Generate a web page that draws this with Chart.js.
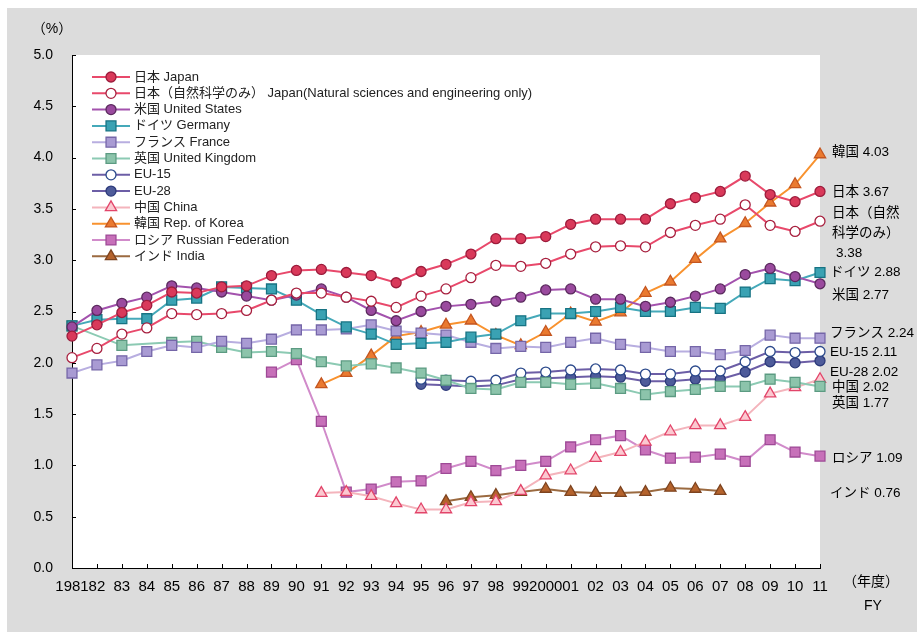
<!DOCTYPE html>
<html><head><meta charset="utf-8">
<script src="https://cdn.jsdelivr.net/npm/chart.js@4"></script>
<style>html,body{margin:0;padding:0;background:#fff;}#wrap{width:917px;height:637px;position:relative;}</style>
</head><body><div id="wrap"><canvas id="c" width="917" height="637"></canvas></div>
<script>
// ---------- DATA ----------
const years = ['1981','82','83','84','85','86','87','88','89','90','91','92','93','94','95','96','97','98','99','2000','01','02','03','04','05','06','07','08','09','10','11'];
const yTicks = [0,0.5,1,1.5,2,2.5,3,3.5,4,4.5,5];

const japan   = [2.26,2.37,2.49,2.56,2.69,2.68,2.74,2.75,2.85,2.90,2.91,2.88,2.85,2.78,2.89,2.96,3.06,3.21,3.21,3.23,3.35,3.40,3.40,3.40,3.55,3.61,3.67,3.82,3.64,3.57,3.67];
const japanNSE= [2.05,2.14,2.28,2.34,2.48,2.47,2.48,2.51,2.61,2.68,2.68,2.64,2.60,2.54,2.65,2.72,2.83,2.95,2.94,2.97,3.06,3.13,3.14,3.13,3.27,3.34,3.40,3.54,3.34,3.28,3.38];
const usa     = [2.35,2.51,2.58,2.64,2.75,2.73,2.69,2.65,2.61,2.66,2.72,2.64,2.51,2.41,2.50,2.55,2.57,2.60,2.64,2.71,2.72,2.62,2.62,2.55,2.59,2.65,2.72,2.86,2.92,2.84,2.77];
const germany = [2.36,2.42,2.43,2.43,2.61,2.63,2.74,2.73,2.72,2.61,2.47,2.35,2.28,2.18,2.19,2.20,2.25,2.28,2.41,2.48,2.48,2.50,2.54,2.50,2.50,2.54,2.53,2.69,2.82,2.80,2.88];
const france  = [1.90,1.98,2.02,2.11,2.17,2.15,2.21,2.19,2.23,2.32,2.32,2.33,2.37,2.31,2.29,2.27,2.20,2.14,2.16,2.15,2.20,2.24,2.18,2.15,2.11,2.11,2.08,2.12,2.27,2.24,2.24];
const uk      = [2.36,null,2.17,null,2.20,2.21,2.15,2.10,2.11,2.09,2.01,1.97,1.99,1.95,1.90,1.83,1.75,1.74,1.81,1.81,1.79,1.80,1.75,1.69,1.72,1.74,1.77,1.77,1.84,1.81,1.77];
const eu15    = [null,null,null,null,null,null,null,null,null,null,null,null,null,null,1.84,1.83,1.82,1.83,1.90,1.91,1.93,1.94,1.93,1.89,1.89,1.92,1.92,2.01,2.11,2.10,2.11];
const eu28    = [null,null,null,null,null,null,null,null,null,null,null,null,null,null,1.79,1.78,1.77,1.78,1.84,1.85,1.86,1.87,1.86,1.82,1.82,1.84,1.84,1.91,2.01,2.00,2.02];
const china   = [null,null,null,null,null,null,null,null,null,null,0.73,0.74,0.70,0.63,0.57,0.57,0.64,0.65,0.75,0.90,0.95,1.07,1.13,1.23,1.33,1.39,1.39,1.47,1.70,1.76,1.84];
const korea   = [null,null,null,null,null,null,null,null,null,null,1.79,1.90,2.07,2.26,2.30,2.37,2.41,2.27,2.17,2.30,2.48,2.40,2.49,2.68,2.79,3.01,3.21,3.36,3.56,3.74,4.03];
const russia  = [null,null,null,null,null,null,null,null,1.91,2.03,1.43,0.74,0.77,0.84,0.85,0.97,1.04,0.95,1.00,1.04,1.18,1.25,1.29,1.15,1.07,1.08,1.11,1.04,1.25,1.13,1.09];
const india   = [null,null,null,null,null,null,null,null,null,null,null,null,null,null,null,0.65,0.69,0.71,0.74,0.77,0.74,0.73,0.73,0.74,0.78,0.77,0.75,null,null,null,null];

const seriesNames = ['日本 Japan','日本（自然科学のみ） Japan(Natural sciences and engineering only)','米国 United States','ドイツ Germany','フランス France','英国 United Kingdom','EU-15','EU-28','中国 China','韓国 Rep. of Korea','ロシア Russian Federation','インド India'];
const seriesData = [japan,japanNSE,usa,germany,france,uk,eu15,eu28,china,korea,russia,india];

const endLabels = ['韓国 4.03','日本 3.67','日本（自然','科学のみ）','3.38','ドイツ 2.88','米国 2.77','フランス 2.24','EU-15 2.11','EU-28 2.02','中国 2.02','英国 1.77','ロシア 1.09','インド 0.76'];

// ---------- STYLE / LAYOUT ----------
const styles = [
  {line:'#e8496b', bg:'#d9395a', bd:'#9c1c3c', ps:'circle',   r:5},
  {line:'#e8496b', bg:'#ffffff', bd:'#a8203f', ps:'circle',   r:5},
  {line:'#a352ad', bg:'#9a4a9e', bd:'#5b2a5e', ps:'circle',   r:5},
  {line:'#45a9b9', bg:'#3aa2b3', bd:'#177383', ps:'rect',     r:7},
  {line:'#b8aee0', bg:'#a99bd3', bd:'#7566a8', ps:'rect',     r:7},
  {line:'#8ccab3', bg:'#8cc4ab', bd:'#5c9b82', ps:'rect',     r:7},
  {line:'#6c5ea6', bg:'#ffffff', bd:'#2c4a8c', ps:'circle',   r:5},
  {line:'#6c5ea6', bg:'#4e5b9a', bd:'#2c3a7a', ps:'circle',   r:5},
  {line:'#f4b4bc', bg:'#fbc8d0', bd:'#e2456a', ps:'triangle', r:6.5},
  {line:'#f8922f', bg:'#ea7a30', bd:'#c45620', ps:'triangle', r:6.5},
  {line:'#d18bca', bg:'#c770b9', bd:'#9e4a96', ps:'rect',     r:7},
  {line:'#9b6a40', bg:'#b5632c', bd:'#7e4420', ps:'triangle', r:6.5}
];
const endLabelPos = [[832,152],[832,192],[832,213],[832,233],[836,253],[830,272],[832,295],[830,333],[830,352],[830,372],[832,387],[832,403],[832,458],[830,493]];
const FONT = '"Liberation Sans", Arial, "Noto Sans CJK JP", sans-serif';
const NARROW = '"Liberation Sans Narrow", "Liberation Sans", Arial, sans-serif';

const datasets = seriesData.map((d,i)=>({
  label: seriesNames[i], data: d, spanGaps: true, tension: 0, fill: false,
  borderColor: styles[i].line, borderWidth: 2,
  pointStyle: styles[i].ps, pointRadius: styles[i].r, pointHoverRadius: styles[i].r,
  pointBackgroundColor: styles[i].bg, pointBorderColor: styles[i].bd, pointBorderWidth: 1.3
}));

const bgPlugin = {
  id:'bg',
  beforeDraw(chart){
    const {ctx, chartArea:a} = chart;
    ctx.save();
    ctx.fillStyle = '#ffffff'; ctx.fillRect(0,0,chart.width,chart.height);
    ctx.fillStyle = '#dcdcdc'; ctx.fillRect(7,8,910,624);
    ctx.fillStyle = '#ffffff'; ctx.fillRect(a.left, a.top, a.right-a.left, a.bottom-a.top);
    ctx.restore();
  }
};

const decoPlugin = {
  id:'deco',
  afterDatasetsDraw(chart){
    const {ctx, chartArea:a, scales:{x,y}} = chart;
    ctx.save();
    // tick marks (inward)
    ctx.strokeStyle = '#000'; ctx.lineWidth = 1;
    yTicks.forEach(v=>{
      const py = Math.round(y.getPixelForValue(v))+0.5;
      ctx.beginPath(); ctx.moveTo(a.left, py); ctx.lineTo(a.left+4, py); ctx.stroke();
    });
    years.forEach((_,i)=>{
      const px = Math.round(x.getPixelForValue(i))+0.5;
      ctx.beginPath(); ctx.moveTo(px, a.bottom); ctx.lineTo(px, a.bottom-4); ctx.stroke();
    });
    // legend
    ctx.textBaseline = 'middle'; ctx.textAlign = 'left';
    ctx.font = '13px ' + FONT;
    datasets.forEach((ds,i)=>{
      const ly = 77 + i*16.3;
      ctx.strokeStyle = ds.borderColor; ctx.lineWidth = 2;
      ctx.beginPath(); ctx.moveTo(92, ly); ctx.lineTo(130, ly); ctx.stroke();
      ctx.fillStyle = ds.pointBackgroundColor; ctx.strokeStyle = ds.pointBorderColor; ctx.lineWidth = 1.3;
      Chart.helpers.drawPoint(ctx, {pointStyle: ds.pointStyle, rotation: 0, radius: ds.pointRadius, borderWidth: 1.3}, 111, ly);
      ctx.fillStyle = '#222';
      ctx.fillText(ds.label, 134, ly);
    });
    ctx.restore();
  },
  afterDraw(chart){
    const {ctx} = chart;
    ctx.save();
    ctx.fillStyle = '#000'; ctx.textBaseline = 'middle';
    ctx.font = '14px ' + FONT;
    ctx.textAlign = 'center';
    ctx.fillText('（%）', 52, 29);
    ctx.fillText('（年度）', 871, 582);
    ctx.fillText('FY', 873, 606);
    ctx.textAlign = 'left';
    ctx.font = '13.5px ' + FONT;
    endLabels.forEach((t,i)=>ctx.fillText(t, endLabelPos[i][0], endLabelPos[i][1]));
    ctx.restore();
  }
};

new Chart(document.getElementById('c'), {
  type:'line',
  data:{labels: years, datasets},
  options:{
    responsive:false, animation:false, devicePixelRatio:1,
    layout:{padding:{left:0,right:97,top:55,bottom:0}},
    plugins:{legend:{display:false}, tooltip:{enabled:false}},
    scales:{
      x:{type:'category', offset:false,
         grid:{display:false, drawTicks:false},
         border:{display:true, color:'#000', width:1},
         ticks:{autoSkip:false, maxRotation:0, minRotation:0, padding:10, color:'#000', font:{family:NARROW, size:15}},
         afterFit(s){ s.height = 69; }},
      y:{min:0, max:5,
         grid:{display:false, drawTicks:false},
         border:{display:true, color:'#000', width:1},
         ticks:{stepSize:0.5, padding:19, color:'#000', font:{family:FONT, size:14}, callback:v=>Number(v).toFixed(1)},
         afterFit(s){ s.width = 72; }}
    }
  },
  plugins:[bgPlugin, decoPlugin]
});
</script>
</body></html>
